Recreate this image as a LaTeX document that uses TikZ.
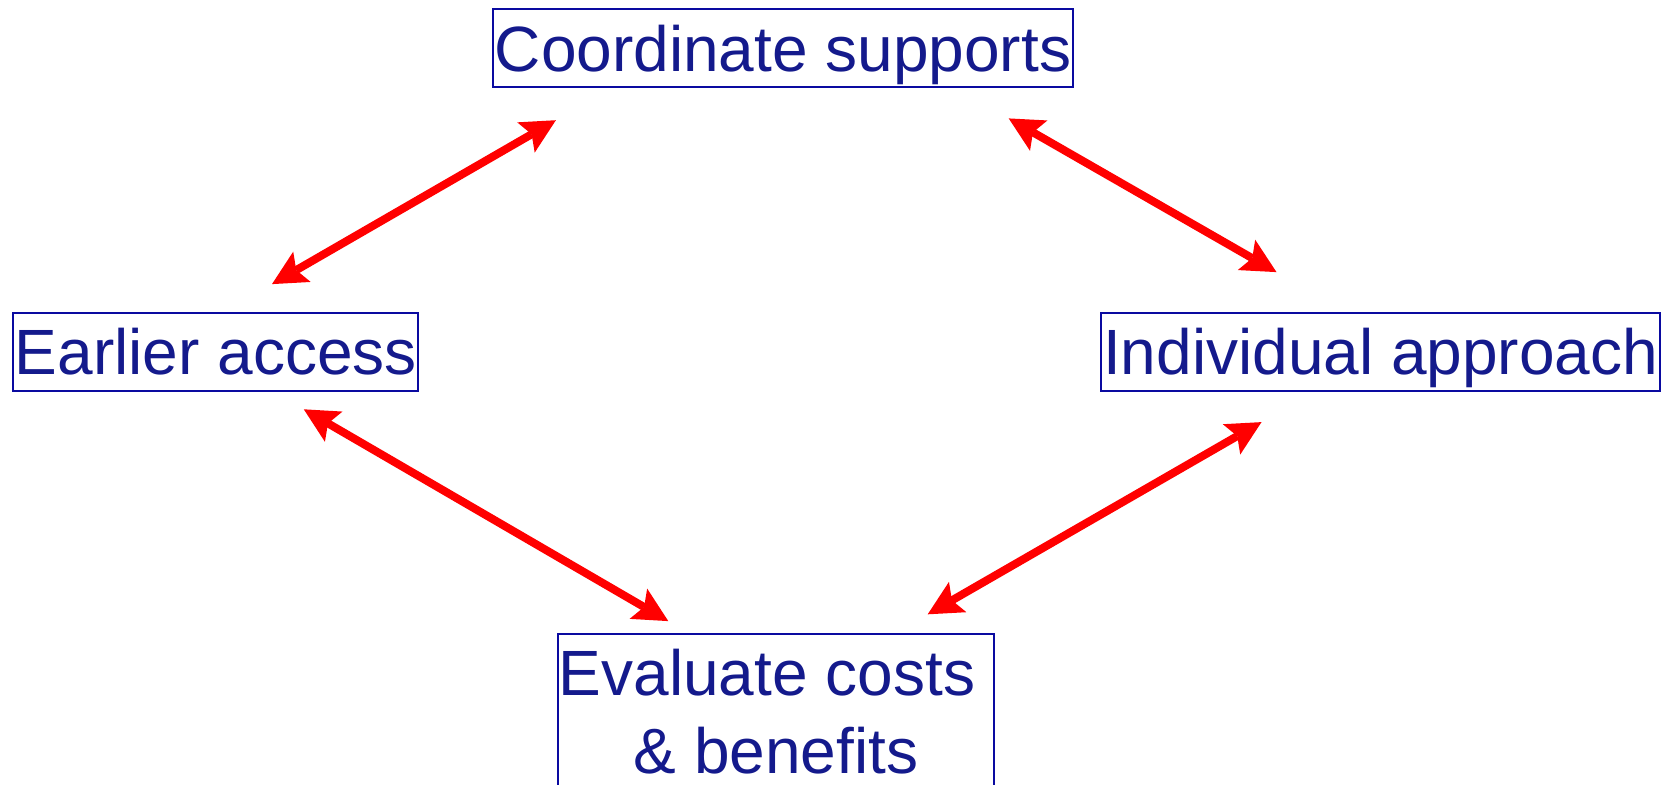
\documentclass[tikz,border=0pt]{standalone}
\usepackage{fontspec}
\setmainfont{Liberation Sans}
\usetikzlibrary{arrows.meta}
\definecolor{boxblue}{RGB}{10,10,160}
\definecolor{textblue}{RGB}{20,26,140}
\begin{document}
\begin{tikzpicture}[x=0.5pt,y=-0.5pt,
  topic/.style={draw=boxblue,line width=1pt,text=textblue,font=\fontsize{32}{38.8}\selectfont,inner xsep=0pt,inner ysep=8pt},
  oneline/.style={text height=23pt,text depth=0pt,minimum height=39pt},
  tip/.tip={Stealth[length=17.3pt,width=17.5pt,inset=3.3pt,line width=0pt]},
  link/.style={red,line width=4pt,tip-tip}]
\useasboundingbox (0,0) rectangle (1672,784);
%
\node[topic,oneline,minimum width=289.7pt] (coord) at (783,48) {Coordinate supports};
\node[topic,oneline,minimum width=202.5pt] (early) at (215.8,351.7) {Earlier access};
\node[topic,oneline,minimum width=279.3pt] (indiv) at (1380.7,351.7) {Individual approach};
\node[topic,align=center,minimum width=218.3pt,anchor=north] (eval) at (776,632.5) {Evaluate costs\kern0.28em\\ \& benefits};
%
\draw[link] ([xshift=28.1pt,yshift=13.8pt]early.north) -- ([xshift=31.8pt,yshift=-16.1pt]coord.south west);
\draw[link] ([xshift=-32.5pt,yshift=-15.2pt]coord.south east) -- ([xshift=-52.1pt,yshift=19.8pt]indiv.north);
\draw[link] ([xshift=44pt,yshift=-8.8pt]early.south) -- ([xshift=55.8pt,yshift=5.7pt]eval.north west);
\draw[link] ([xshift=-59.6pt,yshift=-15.2pt]indiv.south) -- ([xshift=-33.8pt,yshift=9.1pt]eval.north east);
\end{tikzpicture}
\end{document}
